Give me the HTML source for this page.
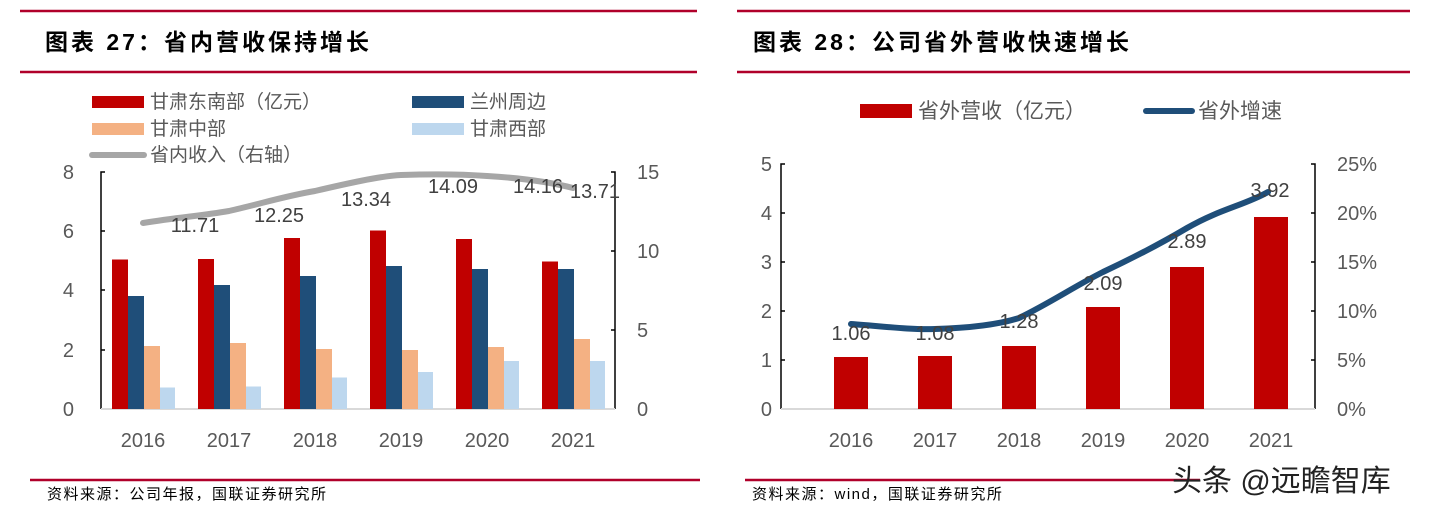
<!DOCTYPE html>
<html><head><meta charset="utf-8"><style>
body{margin:0;background:#fff;}
svg text{font-family:"Liberation Sans","Noto Sans CJK SC",sans-serif;}
</style></head><body>
<svg width="1453" height="513" xmlns="http://www.w3.org/2000/svg">
<rect width="1453" height="513" fill="#fff"/>
<g stroke="#b0002a" stroke-width="2.5">
<line x1="20" y1="11" x2="697" y2="11"/><line x1="20" y1="72" x2="697" y2="72"/>
<line x1="737" y1="11" x2="1410" y2="11"/><line x1="737" y1="72" x2="1410" y2="72"/>
<line x1="30" y1="480" x2="700" y2="480"/><line x1="745" y1="480" x2="1200" y2="480"/>
</g>
<text x="45" y="50" font-size="23" font-weight="bold" fill="#000" letter-spacing="3">图表 27：省内营收保持增长</text>
<text x="753" y="50" font-size="23" font-weight="bold" fill="#000" letter-spacing="3">图表 28：公司省外营收快速增长</text>
<text x="47" y="499" font-size="15" fill="#000" letter-spacing="1.5">资料来源：公司年报，国联证券研究所</text>
<text x="752" y="499" font-size="15" fill="#000" letter-spacing="1.5">资料来源：wind，国联证券研究所</text>
<text x="1172" y="491" font-size="30" fill="#222">头条 @远瞻智库</text>

<rect x="92" y="96" width="52" height="12" fill="#c00000"/><text x="150" y="108" font-size="19" fill="#595959">甘肃东南部（亿元）</text>
<rect x="412" y="96" width="52" height="12" fill="#1f4e79"/><text x="470" y="108" font-size="19" fill="#595959">兰州周边</text>
<rect x="92" y="123" width="52" height="12" fill="#f4b183"/><text x="150" y="135" font-size="19" fill="#595959">甘肃中部</text>
<rect x="412" y="123" width="52" height="12" fill="#bdd7ee"/><text x="470" y="135" font-size="19" fill="#595959">甘肃西部</text>
<line x1="92" y1="155" x2="144" y2="155" stroke="#a6a6a6" stroke-width="6" stroke-linecap="round"/><text x="150" y="161" font-size="19" fill="#595959">省内收入（右轴）</text>

<g stroke="#000" stroke-width="1.5" fill="none">
<polyline points="105,172 101,172 101,409"/>
<line x1="101" y1="231" x2="105" y2="231"/><line x1="101" y1="290" x2="105" y2="290"/><line x1="101" y1="350" x2="105" y2="350"/>
<polyline points="611,172 615,172 615,409"/>
<line x1="611" y1="251" x2="615" y2="251"/><line x1="611" y1="330" x2="615" y2="330"/>
</g>
<line x1="101" y1="409" x2="615" y2="409" stroke="#d9d9d9" stroke-width="2"/>
<g font-size="20" fill="#595959" text-anchor="end">
<text x="74" y="179">8</text><text x="74" y="238">6</text><text x="74" y="297">4</text><text x="74" y="357">2</text><text x="74" y="416">0</text>
</g>
<g font-size="20" fill="#595959">
<text x="637" y="179">15</text><text x="637" y="258">10</text><text x="637" y="337">5</text><text x="637" y="416">0</text>
</g>
<g font-size="20" fill="#595959" text-anchor="middle">
<text x="143" y="447">2016</text><text x="229" y="447">2017</text><text x="315" y="447">2018</text><text x="401" y="447">2019</text><text x="487" y="447">2020</text><text x="573" y="447">2021</text>
</g>
<g>
<rect x="112" y="259.5" width="16" height="149.5" fill="#c00000"/><rect x="128" y="296" width="16" height="113" fill="#1f4e79"/><rect x="144" y="346" width="16" height="63" fill="#f4b183"/><rect x="160" y="387.5" width="15" height="21.5" fill="#bdd7ee"/>
<rect x="198" y="259" width="16" height="150" fill="#c00000"/><rect x="214" y="285" width="16" height="124" fill="#1f4e79"/><rect x="230" y="343" width="16" height="66" fill="#f4b183"/><rect x="246" y="386.5" width="15" height="22.5" fill="#bdd7ee"/>
<rect x="284" y="238" width="16" height="171" fill="#c00000"/><rect x="300" y="276" width="16" height="133" fill="#1f4e79"/><rect x="316" y="349" width="16" height="60" fill="#f4b183"/><rect x="332" y="377.5" width="15" height="31.5" fill="#bdd7ee"/>
<rect x="370" y="230.5" width="16" height="178.5" fill="#c00000"/><rect x="386" y="266" width="16" height="143" fill="#1f4e79"/><rect x="402" y="350" width="16" height="59" fill="#f4b183"/><rect x="418" y="372" width="15" height="37" fill="#bdd7ee"/>
<rect x="456" y="239" width="16" height="170" fill="#c00000"/><rect x="472" y="269" width="16" height="140" fill="#1f4e79"/><rect x="488" y="347" width="16" height="62" fill="#f4b183"/><rect x="504" y="361" width="15" height="48" fill="#bdd7ee"/>
<rect x="542" y="261.5" width="16" height="147.5" fill="#c00000"/><rect x="558" y="269" width="16" height="140" fill="#1f4e79"/><rect x="574" y="339" width="16" height="70" fill="#f4b183"/><rect x="590" y="361" width="15" height="48" fill="#bdd7ee"/>
</g>
<path d="M143,223 C180,217 200,216 229,211 C260,204 285,196 315,191 C345,184 380,176 401,175 C430,174 460,174 487,176 C520,178 550,182 573,188" fill="none" stroke="#a6a6a6" stroke-width="6" stroke-linecap="round"/>
<g font-size="20" fill="#404040" text-anchor="middle">
<text x="195" y="232">11.71</text><text x="279" y="222">12.25</text><text x="366" y="206">13.34</text><text x="453" y="193">14.09</text><text x="538" y="193">14.16</text><text x="595" y="198">13.71</text>
</g>

<rect x="860" y="104" width="52" height="14" fill="#c00000"/><text x="918" y="118" font-size="21" fill="#595959">省外营收（亿元）</text>
<line x1="1146" y1="111" x2="1192" y2="111" stroke="#1f4e79" stroke-width="6" stroke-linecap="round"/><text x="1198" y="118" font-size="21" fill="#595959">省外增速</text>
<g stroke="#000" stroke-width="1.5" fill="none">
<polyline points="785,164 781,164 781,409"/>
<line x1="781" y1="213" x2="785" y2="213"/><line x1="781" y1="262" x2="785" y2="262"/><line x1="781" y1="311" x2="785" y2="311"/><line x1="781" y1="360" x2="785" y2="360"/>
<polyline points="1311,164 1315,164 1315,409"/>
<line x1="1311" y1="213" x2="1315" y2="213"/><line x1="1311" y1="262" x2="1315" y2="262"/><line x1="1311" y1="311" x2="1315" y2="311"/><line x1="1311" y1="360" x2="1315" y2="360"/>
</g>
<line x1="781" y1="409" x2="1315" y2="409" stroke="#d9d9d9" stroke-width="2"/>
<g font-size="20" fill="#595959" text-anchor="end">
<text x="772" y="171">5</text><text x="772" y="220">4</text><text x="772" y="269">3</text><text x="772" y="318">2</text><text x="772" y="367">1</text><text x="772" y="416">0</text>
</g>
<g font-size="20" fill="#595959">
<text x="1337" y="171">25%</text><text x="1337" y="220">20%</text><text x="1337" y="269">15%</text><text x="1337" y="318">10%</text><text x="1337" y="367">5%</text><text x="1337" y="416">0%</text>
</g>
<g font-size="20" fill="#595959" text-anchor="middle">
<text x="851" y="447">2016</text><text x="935" y="447">2017</text><text x="1019" y="447">2018</text><text x="1103" y="447">2019</text><text x="1187" y="447">2020</text><text x="1271" y="447">2021</text>
</g>
<g fill="#c00000">
<rect x="834" y="357" width="34" height="52"/><rect x="918" y="356" width="34" height="53"/><rect x="1002" y="346" width="34" height="63"/><rect x="1086" y="307" width="34" height="102"/><rect x="1170" y="267" width="34" height="142"/><rect x="1254" y="217" width="34" height="192"/>
</g>
<path d="M851,324 C880,326 910,330 935,329 C970,328 1000,324 1019,318 C1050,303 1075,286 1103,272 C1135,257 1160,244 1187,228 C1220,209 1245,205 1268,192" fill="none" stroke="#1f4e79" stroke-width="6" stroke-linecap="round"/>
<g font-size="20" fill="#404040" text-anchor="middle">
<text x="851" y="340">1.06</text><text x="935" y="340">1.08</text><text x="1019" y="328">1.28</text><text x="1103" y="290">2.09</text><text x="1187" y="248">2.89</text><text x="1270" y="197">3.92</text>
</g>
</svg>
</body></html>
